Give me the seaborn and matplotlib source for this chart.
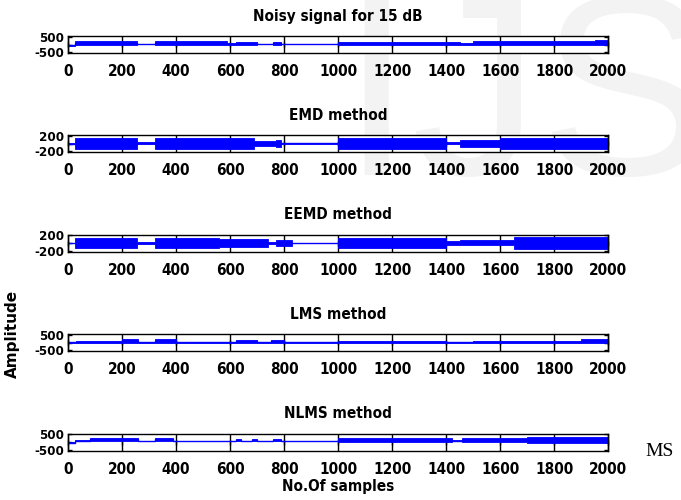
import matplotlib
matplotlib.use("Agg")
import matplotlib.pyplot as plt
import seaborn as sns
import pandas as pd

# =========================
# DATA (envelopes, step segments)
# =========================
titles = ["Noisy signal for 15 dB", "EMD method", "EEMD method", "LMS method", "NLMS method"]
y_ticks = [[-500, 0, 500], [-200, 0, 200], [-200, 0, 200], [-500, 0, 500], [-500, 0, 500]]
y_labels = [["-500", "", "500"], ["-200", "", "200"], ["-200", "", "200"],
            ["-500", "", "500"], ["-500", "", "500"]]
x_ticks = [0, 200, 400, 600, 800, 1000, 1200, 1400, 1600, 1800, 2000]

noisy_edges = [0, 25, 255, 320, 590, 620, 700, 760, 790, 1000, 1450, 1500, 1950, 2000]
noisy_upper = [-40, 230, 30, 230, 120, 150, 30, 150, 30, 180, 110, 200, 280]
noisy_lower = [-80, -20, 10, -20, 0, 0, 10, 0, 10, -10, 0, -20, -50]

emd_edges = [0, 25, 255, 320, 690, 770, 790, 1000, 1400, 1450, 1600, 1800, 2000]
emd_upper = [10, 130, 30, 130, 70, 90, 15, 130, 40, 100, 130, 150]
emd_lower = [-10, -130, -10, -130, -70, -90, -5, -130, -20, -100, -130, -150]

eemd_edges = [0, 25, 255, 320, 560, 740, 770, 830, 1000, 1400, 1450, 1650, 2000]
eemd_upper = [10, 140, 15, 140, 110, 15, 80, 10, 140, 50, 70, 145]
eemd_lower = [-10, -140, -15, -140, -110, -15, -80, -10, -140, -50, -40, -145]

lms_edges = [0, 30, 200, 260, 320, 400, 620, 700, 750, 800, 1000, 1400, 1500, 1900, 2000]
lms_upper = [20, 100, 250, 20, 250, 20, 180, 60, 150, 20, 100, 50, 120, 250]
lms_lower = [-10, 0, -10, 0, -10, 0, 0, 0, 0, 0, -20, 0, -20, -40]

nlms_edges = [0, 25, 80, 260, 320, 390, 620, 640, 680, 700, 760, 790, 1000, 1420, 1460, 1700, 2000]
nlms_upper = [-20, 100, 290, 80, 290, 80, 200, 80, 200, 80, 200, 80, 250, 120, 250, 320]
nlms_lower = [-60, 60, 60, 60, 60, 60, 40, 60, 60, 60, 60, 60, -20, 40, -20, -60]

panels = [
    (noisy_edges, noisy_upper, noisy_lower, 560),
    (emd_edges, emd_upper, emd_lower, 220),
    (eemd_edges, eemd_upper, eemd_lower, 220),
    (lms_edges, lms_upper, lms_lower, 560),
    (nlms_edges, nlms_upper, nlms_lower, 560),
]

# =========================
# STYLE
# =========================
sns.set_theme(style="white")
plt.rcParams["font.family"] = ["DejaVu Sans"]
plt.rcParams["font.stretch"] = "condensed"
plt.rcParams["font.weight"] = "bold"
plt.rcParams["text.color"] = "black"
plt.rcParams["axes.labelcolor"] = "black"

fig = plt.figure(figsize=(6.81, 5.0), dpi=100)

# faint watermark behind the axes
fig.text(0.50, 0.65, "IJS", fontsize=185, color="#f3f3f3", ha="left", va="baseline",
         family="Liberation Sans", weight="normal", stretch="normal", zorder=-5)

bottoms = [0.894, 0.696, 0.497, 0.298, 0.099]
left, width, height = 0.1, 0.793, 0.034

for i, (edges, upper, lower, lim) in enumerate(panels):
    ax = fig.add_axes([left, bottoms[i], width, height])
    ax.set_facecolor("white")
    df = pd.DataFrame({
        "x": edges,
        "up": upper + [upper[-1]],
        "lo": lower + [lower[-1]],
    })
    ax.fill_between(df["x"], df["lo"], df["up"], step="post", color="blue",
                    linewidth=0.6, edgecolor="blue")
    sns.lineplot(x=df["x"], y=(df["up"] + df["lo"]) / 2, ax=ax, color="blue",
                 linewidth=1.0, drawstyle="steps-post")
    ax.set_xlim(0, 2000)
    ax.set_ylim(-lim, lim)
    ax.set_xticks(x_ticks)
    ax.set_yticks(y_ticks[i])
    ax.set_yticklabels(y_labels[i])
    ax.set_xlabel("")
    ax.set_ylabel("")
    ax.tick_params(axis="x", direction="in", length=8, width=1, top=True, bottom=True,
                   pad=8, labelsize=11, colors="black")
    ax.tick_params(axis="y", direction="in", length=3, width=1, left=True, right=True,
                   pad=3, labelsize=9.5, colors="black")
    for lab in ax.get_xticklabels() + ax.get_yticklabels():
        lab.set_fontweight("bold")
    for sp in ax.spines.values():
        sp.set_color("black")
        sp.set_linewidth(1.0)
    ax.set_title(titles[i], fontsize=11, fontweight="bold", pad=11, color="black")

fig.text(0.018, 0.332, "Amplitude", rotation=90, ha="center", va="center",
         fontsize=11, fontweight="bold", stretch="normal")
fig.text(0.496, 0.026, "No.Of samples", ha="center", va="center",
         fontsize=11, fontweight="bold")
fig.text(0.968, 0.097, "MS", ha="center", va="center", fontsize=14,
         family="Liberation Serif", weight="normal", stretch="normal", color="black")

plt.savefig("out.png", dpi=100)
plt.close()
